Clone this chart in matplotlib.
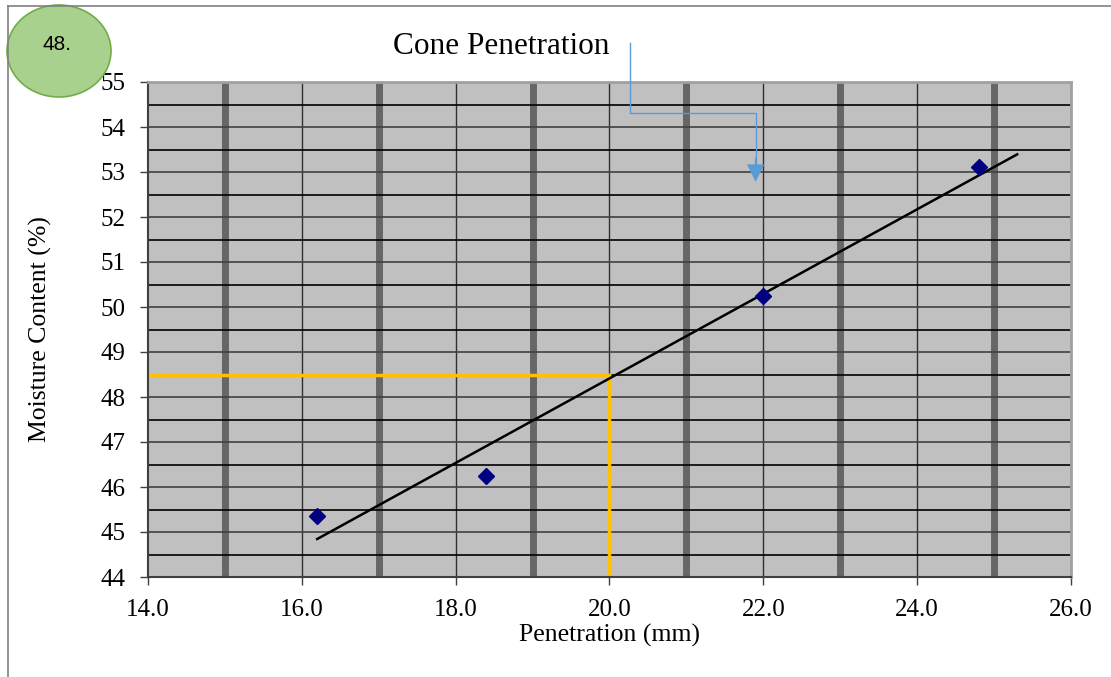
import numpy as np
import matplotlib.pyplot as plt
from matplotlib.patches import Ellipse
from matplotlib.lines import Line2D

penetration = [16.2, 18.4, 22.0, 24.8]
moisture = [45.35, 46.25, 50.25, 53.12]
target_pen = 20.0
target_mc = 48.5
x_ticks = [14, 16, 18, 20, 22, 24, 26]
y_ticks = list(range(44, 56))

serif = 'Liberation Serif'

fig = plt.figure(figsize=(11.11, 6.77), dpi=100)
ax = fig.add_axes([148 / 1111, 100 / 677, 923 / 1111, 495 / 677])
ax.set_facecolor('#C0C0C0')
ax.set_xlim(14, 26)
ax.set_ylim(44, 55)

# grid: thick bands at odd x, thin lines at even x, lines every 0.5 on y
for x in np.arange(15, 26, 2):
    ax.axvline(x, color='#666666', lw=5, zorder=1)
for x in np.arange(16, 26, 2):
    ax.axvline(x, color='#303030', lw=1, zorder=1)
for y in np.arange(44.5, 55, 0.5):
    ax.axhline(y, color='#000000' if y % 1 else '#404040', lw=1.2, zorder=1)

# target lines
ax.plot([14, target_pen], [target_mc, target_mc], color='#FFC000', lw=2.5, zorder=2)
ax.plot([target_pen, target_pen], [44, target_mc], color='#FFC000', lw=2.5, zorder=2)

# linear trend, forecast forward 0.5
k, b = np.polyfit(penetration, moisture, 1)
xt = np.array([min(penetration), max(penetration) + 0.5])
ax.plot(xt, k * xt + b, color='black', lw=1.8, zorder=3)

ax.plot(penetration, moisture, 'D', color='#000080', ms=8, zorder=4)

ax.set_xticks(x_ticks)
ax.set_xticklabels([f'{v:.1f}' for v in x_ticks])
ax.set_yticks(y_ticks)
ax.tick_params(direction='out', length=6, width=1, color='#404040', labelsize=18)
ax.tick_params(axis='y', pad=10)
ax.tick_params(axis='x', pad=10)
for lbl in ax.get_xticklabels() + ax.get_yticklabels():
    lbl.set_fontfamily(serif)
ax.set_xlabel('Penetration (mm)', fontfamily=serif, fontsize=18.5, labelpad=2)
ax.set_ylabel('Moisture Content (%)', fontfamily=serif, fontsize=18.5)
ax.yaxis.set_label_coords(-0.104, 0.5)

ax.spines['left'].set_color('#404040')
ax.spines['bottom'].set_color('#404040')
ax.spines['left'].set_linewidth(1.5)
ax.spines['bottom'].set_linewidth(1.5)
ax.spines['top'].set_color('#A0A0A0')
ax.spines['right'].set_color('#A0A0A0')
ax.spines['top'].set_linewidth(2)
ax.spines['right'].set_linewidth(2)

# annotation arrow
ax.plot([20.27, 20.27, 21.9, 21.9], [55.87, 54.31, 54.31, 53.0],
        color='#5B9BD5', lw=1, clip_on=False, zorder=5)
ax.annotate('', xy=(21.9, 52.78), xytext=(21.9, 53.3),
            arrowprops=dict(arrowstyle='-|>,head_length=1.1,head_width=0.55',
                            color='#5B9BD5', lw=1, mutation_scale=10,
                            shrinkA=0, shrinkB=0), zorder=5)
fig.text(393 / 1111, 1 - 47 / 677, 'Cone Penetration', fontfamily=serif,
         fontsize=22.5, va='center', ha='left')

# page decorations
fig.add_artist(Line2D([8 / 1111, 8 / 1111], [0, 1 - 6 / 677], color='#808080', lw=1.2))
fig.add_artist(Line2D([8 / 1111, 1], [1 - 6 / 677, 1 - 6 / 677], color='#808080', lw=1.2))
fig.add_artist(Ellipse((59 / 1111, 1 - 51 / 677), 104 / 1111, 92 / 677,
                       facecolor='#A9D18E', edgecolor='#70AD47', lw=1.2))
fig.text(57 / 1111, 1 - 44 / 677, '48.', fontfamily='Liberation Sans', fontsize=15,
         ha='center', va='center')

fig.savefig('out.png', dpi=100)
